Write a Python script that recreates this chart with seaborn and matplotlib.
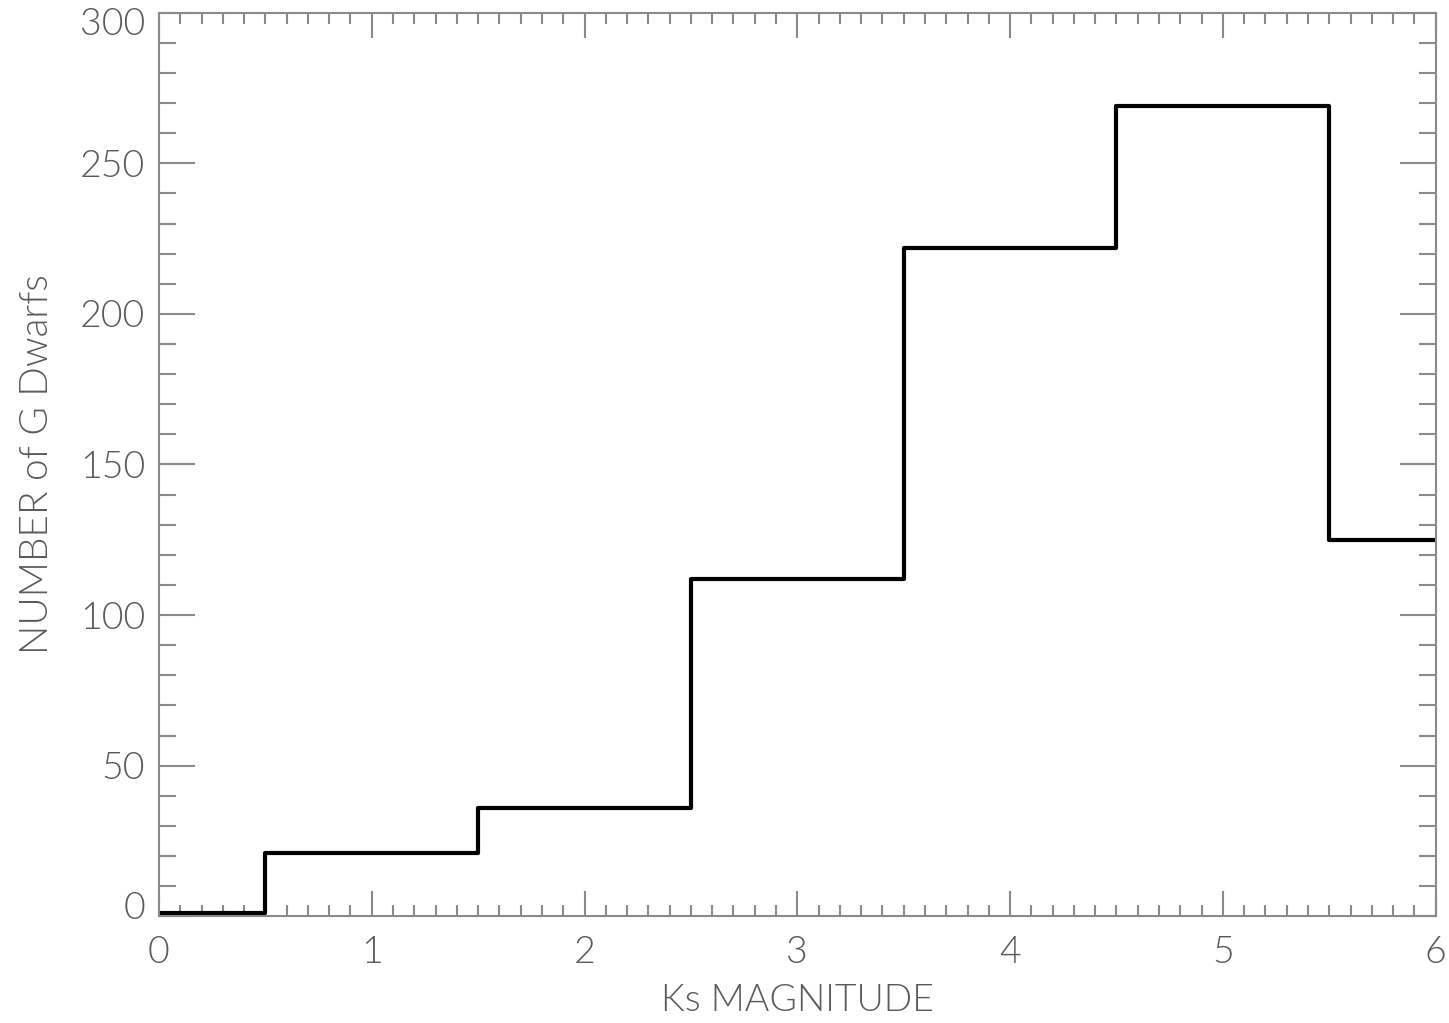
import matplotlib
matplotlib.use("Agg")
import matplotlib.pyplot as plt
import matplotlib.transforms as mtransforms
import seaborn as sns
import numpy as np

bin_edges = [0.0, 0.5, 1.5, 2.5, 3.5, 4.5, 5.5, 6.0]
bin_centers = [0.25, 1.0, 2.0, 3.0, 4.0, 5.0, 5.75]
counts = [1, 21, 36, 112, 222, 269, 125]
x_ticks = [0, 1, 2, 3, 4, 5, 6]
y_ticks = [0, 50, 100, 150, 200, 250, 300]

sns.set_style("white")
plt.rcParams['font.family'] = ['Lato', 'DejaVu Sans']

grey = '#8a8a8a'
tgrey = '#5a5a5a'
fw = 300
fig = plt.figure(figsize=(14.49, 10.23), dpi=100)
ax = fig.add_axes([0.1097, 0.1043, 0.8811, 0.8833])

sns.histplot(x=bin_centers, weights=counts, bins=bin_edges, element="step",
             fill=False, color='black', linewidth=3.0, ax=ax)

ax.set_xlim(0, 6)
ax.set_ylim(0, 300)
ax.set_xticks(x_ticks)
ax.set_yticks(y_ticks)
ax.set_xticks(np.arange(0, 6.01, 0.1), minor=True)
ax.set_yticks(np.arange(0, 301, 10), minor=True)
ax.set_xticklabels([str(v) for v in x_ticks])
ax.set_yticklabels([str(v) for v in y_ticks])

for s in ax.spines.values():
    s.set_color(grey)
    s.set_linewidth(1.5)

ax.tick_params(axis='x', which='major', direction='in', length=18, width=1.5,
               color=grey, top=True, bottom=True, labelsize=27, labelcolor=tgrey, pad=14)
ax.tick_params(axis='x', which='minor', direction='in', length=8, width=1.5,
               color=grey, top=True, bottom=True)
ax.tick_params(axis='y', which='major', direction='in', length=26, width=1.5,
               color=grey, left=True, right=True, labelsize=27, labelcolor=tgrey, pad=10)
ax.tick_params(axis='y', which='minor', direction='in', length=12, width=1.5,
               color=grey, left=True, right=True)

for lab in ax.get_xticklabels() + ax.get_yticklabels():
    lab.set_fontweight(fw)

ylabs = ax.get_yticklabels()
ylabs[0].set_transform(ylabs[0].get_transform() + mtransforms.ScaledTranslation(0, 11/100, fig.dpi_scale_trans))
ylabs[-1].set_transform(ylabs[-1].get_transform() + mtransforms.ScaledTranslation(0, -9/100, fig.dpi_scale_trans))

ax.set_xlabel("Ks MAGNITUDE", fontsize=27, color=tgrey, fontweight=fw, labelpad=10)
ax.set_ylabel("NUMBER of G Dwarfs", fontsize=28, color=tgrey, fontweight=fw, labelpad=18)

fig.savefig("out.png", dpi=100)
